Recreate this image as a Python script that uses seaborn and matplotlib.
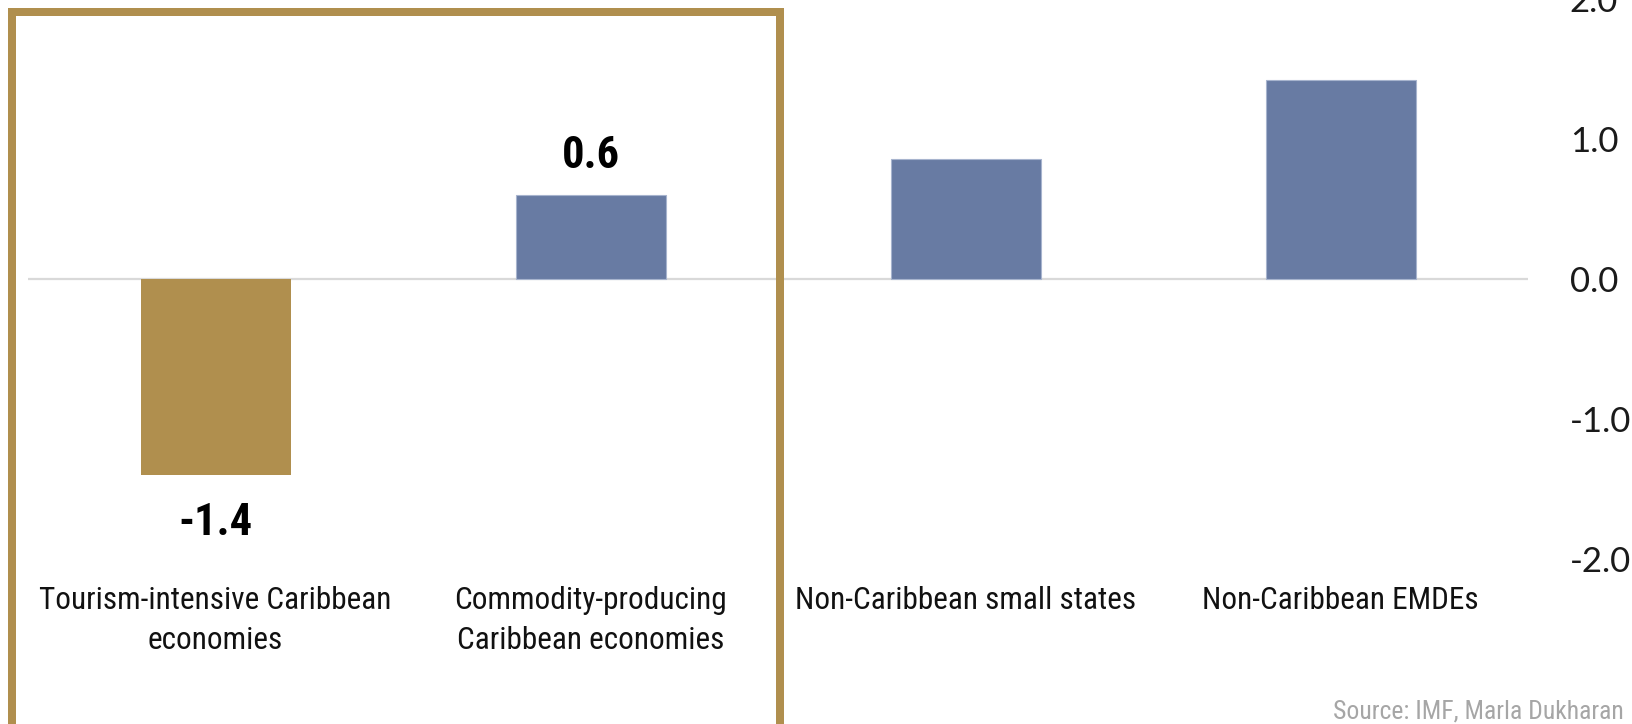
import matplotlib
matplotlib.use("Agg")
import matplotlib.pyplot as plt
from matplotlib import font_manager
from matplotlib.patches import Rectangle
import seaborn as sns

# Data
categories = [
    "Tourism-intensive Caribbean\neconomies",
    "Commodity-producing\nCaribbean economies",
    "Non-Caribbean small states",
    "Non-Caribbean EMDEs",
]
values = [-1.4, 0.6, 0.86, 1.42]
labelled = [True, True, False, False]
y_ticks = [-2.0, -1.0, 0.0, 1.0, 2.0]
source_text = "Source: IMF, Marla Dukharan"

GOLD = "#B08F4E"
BLUE = "#687BA3"
bar_colors = [GOLD, BLUE, BLUE, BLUE]


def pick_font(candidates):
    installed = {f.name for f in font_manager.fontManager.ttflist}
    for name in candidates:
        if name in installed:
            return name
    return "DejaVu Sans"


NARROW = pick_font(["Liberation Sans Narrow", "Roboto Condensed", "Roboto", "Liberation Sans"])
GEOM = pick_font(["Lato", "Noto Sans", "Open Sans"])

sns.set_theme(style="white")
plt.rcParams["axes.unicode_minus"] = False

W, H = 1632, 724
fig = plt.figure(figsize=(W / 100, H / 100), dpi=100)
fig.patch.set_facecolor("white")

# Axes spans the plotting band; y-range -2..2 maps to the full band height
ax_left, ax_right = 28 / W, 1528 / W
ax_bottom = 1 - 558.6 / H
ax_top = 1 + 0.6 / H
ax = fig.add_axes([ax_left, ax_bottom, ax_right - ax_left, ax_top - ax_bottom])
ax.set_facecolor("none")

sns.barplot(
    x=categories, y=values, hue=categories, palette=bar_colors, width=0.4,
    saturation=1, legend=False, ax=ax, zorder=3,
)
for patch, col in zip(ax.patches, bar_colors):
    if col == BLUE:
        patch.set_edgecolor("#A7B4CE")
        patch.set_linewidth(0.8)
    else:
        patch.set_linewidth(0)

ax.axhline(0, color="#D9D9D9", lw=1.6, zorder=2)

ax.set_xlim(-0.5, 3.5)
ax.set_ylim(-2.0, 2.0)
ax.set_yticks(y_ticks)
ax.set_yticklabels([f"{v:.1f}" for v in y_ticks])
ax.yaxis.tick_right()
ax.tick_params(axis="y", length=0, pad=30, labelsize=25, labelcolor="#1a1a1a")
for t in ax.get_yticklabels():
    t.set_fontfamily(GEOM)
    t.set_horizontalalignment("left")

ax.tick_params(axis="x", length=0, pad=20, labelsize=22.5, labelcolor="#111111")
ax.set_xticks(range(len(categories)))
ax.set_xticklabels(categories, fontfamily=NARROW, linespacing=1.45)
ax.set_xlabel("")
ax.set_ylabel("")
for s in ax.spines.values():
    s.set_visible(False)
ax.grid(False)

# Value labels on the highlighted bars
for i, (v, show) in enumerate(zip(values, labelled)):
    if not show:
        continue
    if v >= 0:
        ax.annotate(f"{v:.1f}", xy=(i, v), xytext=(0, 19.5), textcoords="offset points",
                    ha="center", va="baseline", fontsize=32, fontweight="bold",
                    fontfamily=NARROW, color="black")
    else:
        ax.annotate(f"{v:.1f}", xy=(i, v), xytext=(0, -20), textcoords="offset points",
                    ha="center", va="top", fontsize=32, fontweight="bold",
                    fontfamily=NARROW, color="black")

# Highlight frame around the Caribbean groups
frame = Rectangle((12 / W, 1 - 726 / H), (780 - 12) / W, (726 - 12) / H,
                  transform=fig.transFigure, fill=False, edgecolor=GOLD,
                  linewidth=5.76, zorder=10)
fig.patches.append(frame)

fig.text(1624 / W, 1 - 711 / H, source_text, ha="right", va="center",
         fontsize=18.5, color="#A6A6A6", fontfamily=NARROW)

fig.savefig("out.png", dpi=100)
